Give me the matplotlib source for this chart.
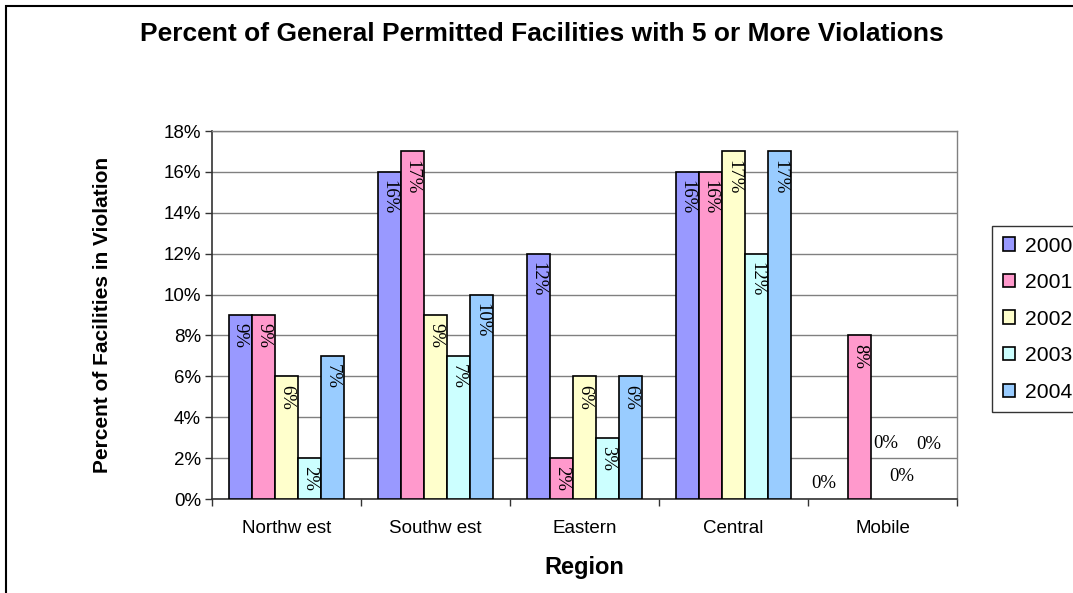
import matplotlib.pyplot as plt
import numpy as np
from matplotlib.patches import Rectangle
from matplotlib.ticker import FuncFormatter, MultipleLocator

plt.rcParams['font.family'] = ['Liberation Sans', 'DejaVu Sans']

# Dados (percentual de instalações com 5 ou mais violações)
regioes = ['Northw est', 'Southw est', 'Eastern', 'Central', 'Mobile']
anos = ['2000', '2001', '2002', '2003', '2004']
v2000 = [9, 16, 12, 16, 0]
v2001 = [9, 17, 2, 16, 8]
v2002 = [6, 9, 6, 17, 0]
v2003 = [2, 7, 3, 12, 0]
v2004 = [7, 10, 6, 17, 0]
series = [v2000, v2001, v2002, v2003, v2004]

cores = ['#9999FF', '#FF99CC', '#FFFFCC', '#CCFFFF', '#99CCFF']

# deslocamentos (pontos) dos rótulos de valor zero
desloc_zero = {0: (-9, 11), 2: (2, 40), 3: (-3, 16), 4: (0, 39)}

fig = plt.figure(figsize=(10.73, 5.93), dpi=100)
ax = fig.add_axes([212 / 1073, 0.1585, 745 / 1073, 0.6205])

# Moldura externa
fig.patches.append(Rectangle((6 / 1073, -0.1), 1.2, 1 - 6 / 593 + 0.1,
                             transform=fig.transFigure, fill=False,
                             edgecolor='black', linewidth=1.5))

x = np.arange(len(regioes))
largura = 0.155
for i, (vals, cor, ano) in enumerate(zip(series, cores, anos)):
    pos = x + (i - 2) * largura
    espessuras = [1.2 if v > 0 else 0 for v in vals]
    ax.bar(pos, [v / 100 for v in vals], width=largura, color=cor,
           edgecolor='black', linewidth=espessuras, label=ano, zorder=3)
    for j, v in enumerate(vals):
        if v > 0:
            ax.annotate(f'{v}%', (pos[j], v / 100), xytext=(0, -6),
                        textcoords='offset points', rotation=270,
                        ha='center', va='top', fontsize=13.5,
                        family='Liberation Serif', zorder=4)
        else:
            dx, dy = desloc_zero[i]
            ax.annotate(f'{v}%', (pos[j], 0), xytext=(dx, dy),
                        textcoords='offset points', ha='center',
                        va='center', fontsize=13.5,
                        family='Liberation Serif', zorder=4)

ax.set_xlim(-0.5, 4.5)
ax.set_ylim(0, 0.18)
ax.yaxis.set_major_locator(MultipleLocator(0.02))
ax.yaxis.set_major_formatter(FuncFormatter(lambda v, p: f'{v * 100:.0f}%'))
ax.grid(True, axis='y', color='#808080', linewidth=1, zorder=0)

ax.set_xticks(x)
ax.set_xticklabels(regioes, fontsize=13.5)
ax.tick_params(axis='x', length=0, pad=15)
ax.set_xticks(np.arange(-0.5, 5, 1), minor=True)
ax.tick_params(axis='x', which='minor', length=5, width=1, color='#333333')
ax.tick_params(axis='y', labelsize=13.5, length=5, width=1, color='#333333',
               pad=3)

for lado in ['top', 'right']:
    ax.spines[lado].set_color('#808080')
    ax.spines[lado].set_linewidth(1)
for lado in ['left', 'bottom']:
    ax.spines[lado].set_color('#333333')
    ax.spines[lado].set_linewidth(1.2)

ax.set_xlabel('Region', fontsize=17, fontweight='bold', labelpad=14)
ax.set_ylabel('Percent of Facilities in Violation', fontsize=15,
              fontweight='bold', labelpad=37)

fig.text(0.505, 0.942, 'Percent of General Permitted Facilities with 5 or More Violations',
         ha='center', va='center', fontsize=19, fontweight='bold')

leg = fig.legend(loc='upper left', bbox_to_anchor=(992 / 1073, 1 - 226 / 593),
                 fontsize=15.2, frameon=True, fancybox=False, edgecolor='black',
                 handlelength=0.6, handleheight=0.6, handletextpad=0.45,
                 labelspacing=0.83, borderpad=0.5, borderaxespad=0)
leg.get_frame().set_linewidth(1)

fig.savefig('out.png', dpi=100)
